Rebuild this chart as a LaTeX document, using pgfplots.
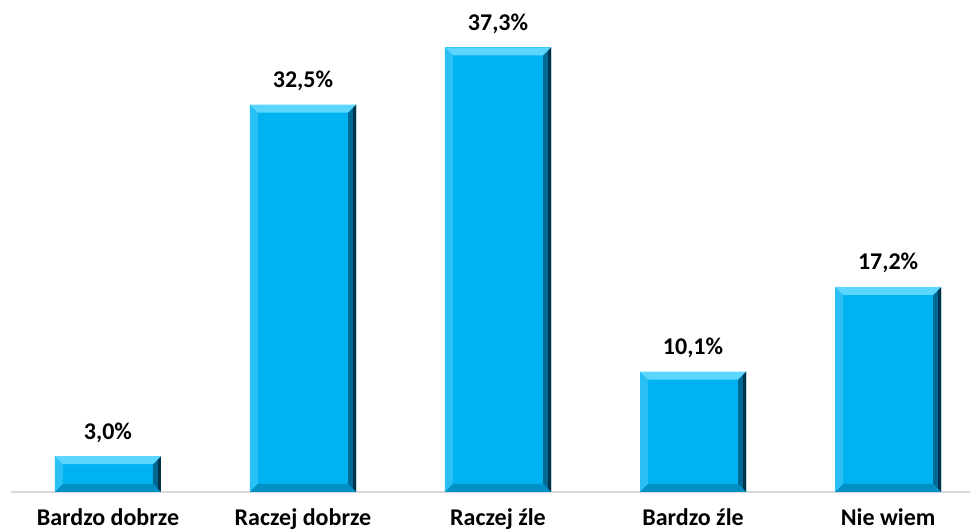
\documentclass[border=0pt]{standalone}
\usepackage{pgfplots}
\pgfplotsset{compat=1.18}
\usepackage{fontspec}
\setmainfont{Carlito}
\definecolor{barc}{HTML}{00B2F0}
\definecolor{barT}{HTML}{5CD6FF}
\definecolor{barL}{HTML}{2BC0F5}
\definecolor{barR}{HTML}{006A94}
\definecolor{barRR}{HTML}{00324A}
\definecolor{barB}{HTML}{0090C4}
\definecolor{axc}{HTML}{D9D9D9}
\def\PNW{\pgfpointanchor{path picture bounding box}{north west}}
\def\PNE{\pgfpointanchor{path picture bounding box}{north east}}
\def\PSW{\pgfpointanchor{path picture bounding box}{south west}}
\def\PSE{\pgfpointanchor{path picture bounding box}{south east}}
% #1 colour, #2 bevel size
\newcommand\bevelfaces[2]{%
  \pgfsetfillcolor{barL}%
  \pgfpathmoveto{\PNW}\pgfpathlineto{\pgfpointadd{\PNW}{\pgfpoint{#2}{-#2}}}%
  \pgfpathlineto{\pgfpointadd{\PSW}{\pgfpoint{#2}{#2}}}\pgfpathlineto{\PSW}\pgfpathclose\pgfusepath{fill}%
  \pgfsetfillcolor{#1}%
  \pgfpathmoveto{\PNE}\pgfpathlineto{\pgfpointadd{\PNE}{\pgfpoint{-#2}{-#2}}}%
  \pgfpathlineto{\pgfpointadd{\PSE}{\pgfpoint{-#2}{#2}}}\pgfpathlineto{\PSE}\pgfpathclose\pgfusepath{fill}%
  \pgfsetfillcolor{barRR}%
  \pgfpathmoveto{\PNE}\pgfpathlineto{\pgfpointadd{\PNE}{\pgfpoint{-3bp}{-3bp}}}%
  \pgfpathlineto{\pgfpointadd{\PSE}{\pgfpoint{-3bp}{3bp}}}\pgfpathlineto{\PSE}\pgfpathclose\pgfusepath{fill}%
  \pgfsetfillcolor{barB}%
  \pgfpathmoveto{\PSW}\pgfpathlineto{\pgfpointadd{\PSW}{\pgfpoint{#2}{#2}}}%
  \pgfpathlineto{\pgfpointadd{\PSE}{\pgfpoint{-#2}{#2}}}\pgfpathlineto{\PSE}\pgfpathclose\pgfusepath{fill}%
  \pgfsetfillcolor{barT}%
  \pgfpathmoveto{\PNW}\pgfpathlineto{\pgfpointadd{\PNW}{\pgfpoint{#2}{-#2}}}%
  \pgfpathlineto{\pgfpointadd{\PNE}{\pgfpoint{-#2}{-#2}}}\pgfpathlineto{\PNE}\pgfpathclose\pgfusepath{fill}%
}
\pgfplotstableread{
x y lab
0 3.0 {3,0\%}
1 32.5 {32,5\%}
2 37.3 {37,3\%}
3 10.1 {10,1\%}
4 17.2 {17,2\%}
}\datatab
\pgfplotsset{bevelbar/.style={ybar, bar width=0.544, fill=barc, draw=none, path picture={\bevelfaces{barR}{8bp}}}}
\begin{document}
\begin{tikzpicture}[x=1bp,y=1bp]
\begin{axis}[
  at={(11bp,39bp)}, anchor=south west,
  scale only axis, width=959bp, height=492bp,
  xmin=-0.497, xmax=4.42, ymin=0, ymax=41.27,
  axis y line=none,
  axis x line*=bottom,
  x axis line style={draw=axc, line width=1.5pt, -},
  xtick={0,1,2,3,4},
  xticklabels={Bardzo dobrze, Raczej dobrze, Raczej źle, Bardzo źle, Nie wiem},
  major tick length=0pt,
  xticklabel style={font=\fontsize{24bp}{28bp}\selectfont\bfseries, anchor=base, yshift=-33bp, text=black},
  clip=false,
]
\addplot[bevelbar] coordinates {(0,3.0)};
\addplot[bevelbar] coordinates {(1,32.5)};
\addplot[bevelbar] coordinates {(2,37.3)};
\addplot[bevelbar] coordinates {(3,10.1)};
\addplot[bevelbar] coordinates {(4,17.2)};
\addplot[draw=none, mark=none, point meta=explicit symbolic, nodes near coords,
  every node near coord/.append style={font=\fontsize{24bp}{28bp}\selectfont\bfseries, anchor=base, inner sep=0pt, yshift=17bp, text=black}]
  table[x=x, y=y, meta=lab] {\datatab};
\end{axis}
\pgfresetboundingbox
\path (0,0) rectangle (970bp,531bp);
\end{tikzpicture}
\end{document}
